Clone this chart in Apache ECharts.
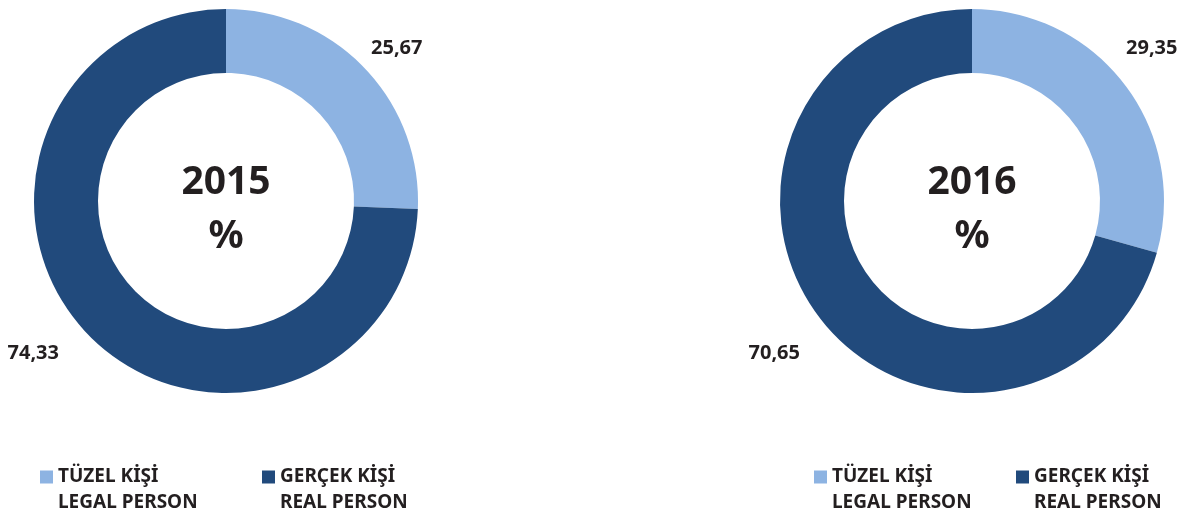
<!DOCTYPE html>
<html>
<head>
<meta charset="utf-8">
<script src="https://cdn.jsdelivr.net/npm/echarts@6/dist/echarts.min.js"></script>
<style>
  html, body { margin: 0; padding: 0; background: #ffffff; }
  #chart { width: 1184px; height: 518px; }
</style>
</head>
<body>
<div id="chart"></div>
<script>
// ---- Data ----
var categories = ['TÜZEL KİŞİ', 'GERÇEK KİŞİ'];
var categoriesEn = ['LEGAL PERSON', 'REAL PERSON'];
var years = ['2015', '2016'];
var values2015 = [25.67, 74.33];
var values2016 = [29.35, 70.65];

// ---- Styles / layout ----
var FONT = 'Noto Sans';
var TEXT = '#231f20';
var COLORS = ['#8db3e2', '#214a7c'];
var centers = [[226, 201], [972, 201]];
var labelOffsets = [
  [[145, -153, 'left'], [-167, 152, 'right']],
  [[154, -153, 'left'], [-172, 152, 'right']]
];
var legendSetup = [
  { left: 40, textWidth: 194 },
  { left: 814, textWidth: 174 }
];

function fmt(v) { return v.toFixed(2).replace('.', ','); }

var allValues = [values2015, values2016];
var series = [];
var titles = [];
var legends = [];

allValues.forEach(function (vals, si) {
  var c = centers[si];
  series.push({
    type: 'pie',
    center: c,
    radius: [128, 192],
    startAngle: 90,
    clockwise: true,
    silent: true,
    avoidLabelOverlap: false,
    label: {
      show: true,
      position: 'outside',
      formatter: function (p) { return fmt(p.value); },
      fontFamily: FONT,
      fontWeight: 'bold',
      fontSize: 20,
      color: TEXT
    },
    labelLine: { show: false },
    labelLayout: function (params) {
      var o = labelOffsets[si][params.dataIndex];
      return { x: c[0] + o[0], y: c[1] + o[1], align: o[2], verticalAlign: 'middle' };
    },
    data: categories.map(function (name, i) {
      return { name: name, value: vals[i] };
    })
  });

  titles.push({
    text: '{y|' + years[si] + '}\n{p|%}',
    left: c[0],
    top: 156,
    textAlign: 'center',
    padding: 0,
    textStyle: {
      rich: {
        y: { fontFamily: FONT, fontWeight: 'bold', fontSize: 39, lineHeight: 54, color: TEXT },
        p: { fontFamily: FONT, fontWeight: 'bold', fontSize: 39, lineHeight: 54, color: TEXT }
      }
    }
  });

  var ls = legendSetup[si];
  [0, 1].forEach(function (line) {
    legends.push({
      orient: 'horizontal',
      left: ls.left,
      top: line === 0 ? 466 : 492,
      width: 600,
      padding: 0,
      itemWidth: 13,
      itemHeight: 13,
      itemGap: 10,
      icon: 'rect',
      selectedMode: false,
      data: categories.map(function (name, i) {
        return {
          name: name,
          itemStyle: { color: line === 0 ? COLORS[i] : 'rgba(0,0,0,0)', borderWidth: 0 }
        };
      }),
      formatter: function (name) {
        var idx = categories.indexOf(name);
        return line === 0 ? name : categoriesEn[idx];
      },
      textStyle: {
        fontFamily: FONT,
        fontWeight: 'bold',
        fontSize: 19,
        lineHeight: 22,
        color: TEXT,
        width: ls.textWidth
      }
    });
  });
});

var chart = echarts.init(document.getElementById('chart'), null, { renderer: 'canvas' });
chart.setOption({
  backgroundColor: '#ffffff',
  animation: false,
  color: COLORS,
  title: titles,
  legend: legends,
  series: series
});
</script>
</body>
</html>
